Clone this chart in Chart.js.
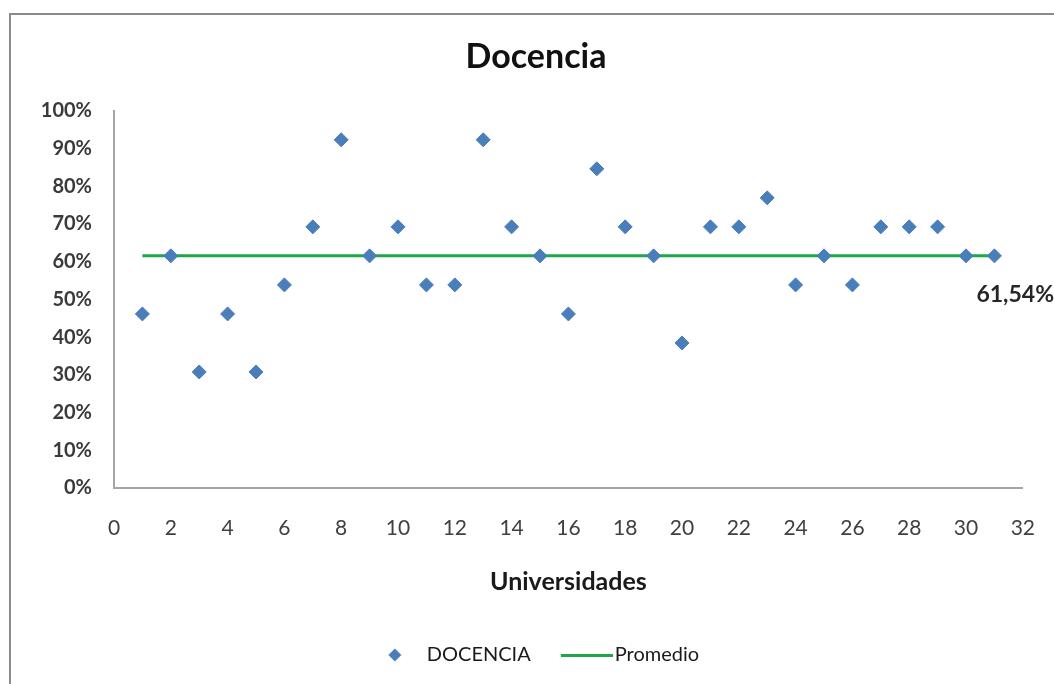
<!DOCTYPE html>
<html>
<head>
<meta charset="utf-8">
<script src="https://cdn.jsdelivr.net/npm/chart.js@4/dist/chart.umd.min.js"></script>
<style>
  body { margin: 0; background: #fff; }
  #wrap { width: 1054px; height: 684px; }
</style>
</head>
<body>
<div id="wrap"><canvas id="chart" width="1054" height="684"></canvas></div>
<script>
// values
const universidades = [1, 2, 3, 4, 5, 6, 7, 8, 9, 10, 11, 12, 13, 14, 15, 16,
                       17, 18, 19, 20, 21, 22, 23, 24, 25, 26, 27, 28, 29, 30, 31];
const docencia = [0.4615, 0.6154, 0.3077, 0.4615, 0.3077, 0.5385, 0.6923, 0.9231,
                  0.6154, 0.6923, 0.5385, 0.5385, 0.9231, 0.6923, 0.6154, 0.4615,
                  0.8462, 0.6923, 0.6154, 0.3846, 0.6923, 0.6923, 0.7692, 0.5385,
                  0.6154, 0.5385, 0.6923, 0.6923, 0.6923, 0.6154, 0.6154];
const promedioX = [1, 31];
const promedio = [0.6154, 0.6154];
const xTicks = { min: 0, max: 32, step: 2 };
const yTicks = { min: 0, max: 1, step: 0.1 };

const blue = '#4a7ebb';
const green = '#1fa64a';
const font = 'Lato, "Open Sans", sans-serif';

// legend symbols
function diamondImg() {
    const c = document.createElement('canvas');
    c.width = 16; c.height = 16;
    const g = c.getContext('2d');
    g.fillStyle = blue;
    g.beginPath();
    g.moveTo(8, 1.5); g.lineTo(14.5, 8); g.lineTo(8, 14.5); g.lineTo(1.5, 8);
    g.closePath();
    g.fill();
    return c;
}
function lineImg() {
    // wider than the legend box so the line sits right next to its text
    const c = document.createElement('canvas');
    c.width = 60; c.height = 3;
    const g = c.getContext('2d');
    g.fillStyle = green;
    g.fillRect(8, 0, 52, 3);
    return c;
}
const legendIcons = [diamondImg(), lineImg()];

const frame = {
    id: 'frame',
    beforeDraw(chart) {
        const ctx = chart.ctx;
        ctx.save();
        ctx.fillStyle = '#fff';
        ctx.fillRect(0, 0, chart.width, chart.height);
        ctx.strokeStyle = '#8a8a8a';
        ctx.lineWidth = 2;
        ctx.strokeRect(10, 14, 1100, 700);
        ctx.restore();
    }
};

const avgLabel = {
    id: 'avgLabel',
    afterDatasetsDraw(chart) {
        const meta = chart.getDatasetMeta(1);
        const last = meta.data[meta.data.length - 1];
        const v = promedio[promedio.length - 1];
        const txt = (v * 100).toFixed(2).replace('.', ',') + '%';
        const ctx = chart.ctx;
        ctx.save();
        ctx.font = 'bold 23px ' + font;
        ctx.fillStyle = '#262626';
        ctx.textAlign = 'left';
        ctx.textBaseline = 'middle';
        ctx.fillText(txt, last.x - 18, last.y + 39);
        ctx.restore();
    }
};

new Chart(document.getElementById('chart'), {
    type: 'scatter',
    data: {
        datasets: [{
            label: 'DOCENCIA',
            data: universidades.map((u, i) => ({ x: u, y: docencia[i] })),
            backgroundColor: blue,
            borderColor: blue,
            pointStyle: 'rectRot',
            pointRadius: 7,
            pointHoverRadius: 7
        }, {
            label: 'Promedio',
            type: 'line',
            data: promedioX.map((u, i) => ({ x: u, y: promedio[i] })),
            borderColor: green,
            backgroundColor: green,
            borderWidth: 3,
            pointRadius: 0,
            fill: false
        }]
    },
    options: {
        responsive: false,
        animation: false,
        layout: { padding: { left: 41, right: 23, top: 0, bottom: 9 } },
        plugins: {
            title: {
                display: true,
                text: 'Docencia',
                color: '#111',
                font: { family: font, size: 34, weight: 'bold' },
                padding: { top: 37, bottom: 33 }
            },
            legend: {
                position: 'bottom',
                labels: {
                    usePointStyle: true,
                    pointStyleWidth: 44,
                    padding: 30,
                    color: '#1a1a1a',
                    font: { family: font, size: 20 },
                    generateLabels(chart) {
                        return chart.data.datasets.map((ds, i) => ({
                            text: ds.label,
                            pointStyle: legendIcons[i],
                            fillStyle: ds.backgroundColor,
                            strokeStyle: ds.borderColor,
                            lineWidth: 0,
                            fontColor: '#1a1a1a',
                            hidden: false,
                            datasetIndex: i
                        }));
                    }
                }
            },
            tooltip: { enabled: false }
        },
        scales: {
            x: {
                type: 'linear',
                min: xTicks.min,
                max: xTicks.max,
                // invisible tick marks keep the labels low without a big tick padding
                grid: { display: true, drawOnChartArea: false, drawTicks: true,
                        tickLength: 9, color: 'rgba(0,0,0,0)' },
                border: { display: true, color: '#a6a6a6', width: 2 },
                ticks: {
                    stepSize: xTicks.step,
                    padding: 19,
                    color: '#404040',
                    font: { family: font, size: 21 }
                },
                title: {
                    display: true,
                    text: 'Universidades',
                    color: '#1a1a1a',
                    font: { family: font, size: 25, weight: 'bold' },
                    padding: { top: 10, bottom: 18 }
                },
                afterFit(scale) { scale.height = 127; }
            },
            y: {
                min: yTicks.min,
                max: yTicks.max,
                grid: { display: false, drawTicks: false },
                border: { display: true, color: '#a6a6a6', width: 2 },
                ticks: {
                    stepSize: yTicks.step,
                    padding: 22,
                    color: '#3a3a3a',
                    font: { family: font, size: 20, weight: 'bold' },
                    callback: v => Math.round(v * 100) + '%'
                },
                afterFit(scale) { scale.width = 73; }
            }
        }
    },
    plugins: [frame, avgLabel]
});
</script>
</body>
</html>
